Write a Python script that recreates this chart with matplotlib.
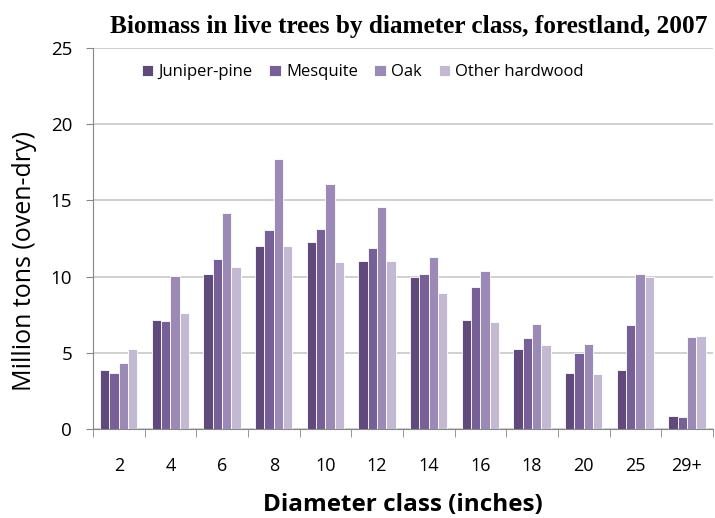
import numpy as np
import matplotlib.pyplot as plt

# Biomass in live trees by diameter class (million tons, oven-dry)
classes = ["2", "4", "6", "8", "10", "12", "14", "16", "18", "20", "25", "29+"]
juniper_pine = [3.85, 7.15, 10.2, 12.0, 12.25, 11.05, 9.95, 7.15, 5.25, 3.65, 3.85, 0.85]
mesquite = [3.7, 7.1, 11.15, 13.05, 13.1, 11.9, 10.2, 9.3, 6.0, 5.0, 6.85, 0.75]
oak = [4.3, 10.05, 14.2, 17.75, 16.1, 14.55, 11.3, 10.35, 6.9, 5.6, 10.15, 6.05]
other_hardwood = [5.25, 7.6, 10.65, 12.0, 10.95, 11.0, 8.9, 7.0, 5.5, 3.6, 10.0, 6.1]

series = [
    ("Juniper-pine", juniper_pine, "#604a7b"),
    ("Mesquite", mesquite, "#775f98"),
    ("Oak", oak, "#9c8ab6"),
    ("Other hardwood", other_hardwood, "#c4b9d2"),
]

plt.rcParams["font.family"] = ["Open Sans", "DejaVu Sans"]

fig = plt.figure(figsize=(7.15, 5.18), dpi=100)
ax = fig.add_axes([0.13, 0.172, 0.867, 0.735])

x = np.arange(len(classes))
width = 0.18
for i, (name, vals, color) in enumerate(series):
    ax.bar(x + (i - 1.5) * width, vals, width, color=color, label=name,
           edgecolor="white", linewidth=0.6, zorder=3)

ax.set_xlim(-0.5, len(classes) - 0.5)
ax.set_ylim(0, 25)
ax.set_yticks(np.arange(0, 26, 5))
ax.grid(axis="y", color="#c8c8c8", linewidth=1.2, zorder=0)

ax.set_xticks(x)
ax.set_xticklabels(classes, fontsize=13)
ax.set_xticks(np.arange(-0.5, len(classes), 1), minor=True)
ax.tick_params(axis="x", which="major", length=0, pad=20)
ax.tick_params(axis="x", which="minor", length=6, color="#888888")
ax.tick_params(axis="y", labelsize=13.5, length=5, color="#888888", pad=10)

for s in ["top", "right"]:
    ax.spines[s].set_visible(False)
for s in ["left", "bottom"]:
    ax.spines[s].set_color("#888888")

ax.set_ylabel("Million tons (oven-dry)", fontsize=18)
ax.yaxis.set_label_coords(-0.09, 0.44)
ax.set_xlabel("Diameter class (inches)", fontsize=17.5, fontweight="bold", va="center")
ax.xaxis.set_label_coords(0.5, -0.2)
fig.text(0.572, 0.948, "Biomass in live trees by diameter class, forestland, 2007",
         ha="center", va="center", fontsize=18.2, fontweight="bold",
         family="Liberation Serif")

ax.legend(loc="upper left", ncol=4, frameon=False, fontsize=12,
          handlelength=0.7, handleheight=0.7, handletextpad=0.3,
          columnspacing=1.0, borderaxespad=0, bbox_to_anchor=(0.068, 0.975))

plt.savefig("out.png", dpi=100)
